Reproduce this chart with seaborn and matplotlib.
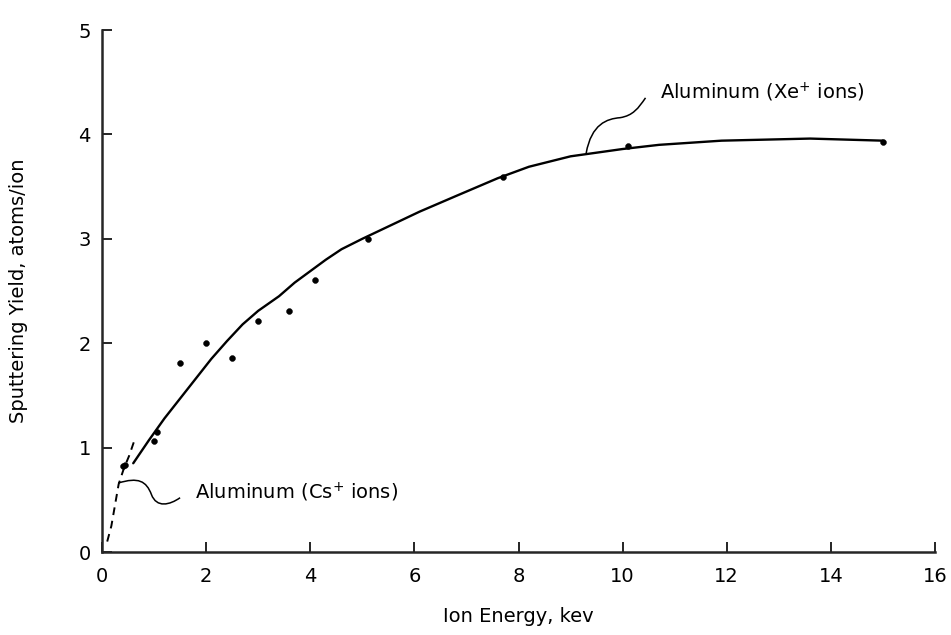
import matplotlib
matplotlib.use("Agg")
import matplotlib.pyplot as plt
import seaborn as sns
import pandas as pd
from matplotlib.path import Path
from matplotlib.patches import PathPatch

# measured points (Xe+ ions on aluminum)
pt_energy = [0.4, 0.45, 1.0, 1.05, 1.5, 2.0, 2.5, 3.0, 3.6, 4.1, 5.1, 7.7, 10.1, 15.0]
pt_yield = [0.82, 0.83, 1.06, 1.15, 1.81, 2.0, 1.86, 2.21, 2.31, 2.61, 3.0, 3.59, 3.89, 3.93]

# faired curve, Xe+ ions
xe_energy = [0.6, 0.9, 1.2, 1.5, 1.8, 2.1, 2.4, 2.7, 3.0, 3.4, 3.7, 4.0, 4.3, 4.6, 5.0,
             6.1, 6.8, 7.6, 8.2, 9.0, 10.0, 10.7, 11.9, 13.6, 15.0]
xe_yield = [0.85, 1.07, 1.28, 1.47, 1.66, 1.85, 2.02, 2.18, 2.31, 2.45, 2.58, 2.69, 2.8,
            2.9, 3.0, 3.26, 3.41, 3.58, 3.69, 3.79, 3.86, 3.9, 3.94, 3.96, 3.94]

# dashed curve, Cs+ ions
cs_energy = [0.1, 0.18, 0.25, 0.32, 0.42, 0.52, 0.63]
cs_yield = [0.1, 0.25, 0.45, 0.65, 0.8, 0.92, 1.08]

x_ticks = list(range(0, 17, 2))
y_ticks = [0, 1, 2, 3, 4, 5]

sns.set_style("ticks")
plt.rcParams['font.family'] = ['DejaVu Sans']
plt.rcParams['mathtext.default'] = 'regular'
for k in ('text.color', 'axes.labelcolor', 'xtick.color', 'ytick.color'):
    plt.rcParams[k] = 'black'

fig = plt.figure(figsize=(9.51, 6.35), dpi=100)
ax = fig.add_axes([102 / 951, 1 - 552 / 635, 833 / 951, 522 / 635])

pts = pd.DataFrame({"energy": pt_energy, "yield": pt_yield})
xe = pd.DataFrame({"energy": xe_energy, "yield": xe_yield})
cs = pd.DataFrame({"energy": cs_energy, "yield": cs_yield})

sns.lineplot(data=xe, x="energy", y="yield", ax=ax, color="black", lw=1.7)
sns.lineplot(data=cs, x="energy", y="yield", ax=ax, color="black", lw=1.4,
             linestyle=(0, (4, 3)))
sns.scatterplot(data=pts, x="energy", y="yield", ax=ax, color="black", s=18,
                edgecolor="black", zorder=3)

# leader squiggles
cs_leader = Path([(0.31, 0.66), (0.7, 0.72), (0.85, 0.68), (0.95, 0.55),
                  (1.05, 0.42), (1.3, 0.45), (1.5, 0.52)],
                 [Path.MOVETO, Path.CURVE4, Path.CURVE4, Path.CURVE4,
                  Path.CURVE4, Path.CURVE4, Path.CURVE4])
xe_leader = Path([(9.3, 3.82), (9.4, 4.1), (9.7, 4.15), (9.95, 4.16),
                  (10.2, 4.18), (10.3, 4.25), (10.44, 4.35)],
                 [Path.MOVETO, Path.CURVE4, Path.CURVE4, Path.CURVE4,
                  Path.CURVE4, Path.CURVE4, Path.CURVE4])
for p in (cs_leader, xe_leader):
    ax.add_patch(PathPatch(p, facecolor="none", edgecolor="black", lw=1.1))

ax.text(1.79, 0.57, "Aluminum (Cs$^{+}$ ions)", fontsize=14, va="center", ha="left")
ax.text(10.72, 4.4, "Aluminum (Xe$^{+}$ ions)", fontsize=14, va="center", ha="left")

ax.set_xlim(0, 16)
ax.set_ylim(0, 5)
ax.set_xticks(x_ticks)
ax.set_yticks(y_ticks)
ax.tick_params(direction="in", length=7, width=1.2, labelsize=14)
ax.tick_params(axis="x", pad=11)
ax.tick_params(axis="y", pad=8)
for s in ("left", "bottom"):
    ax.spines[s].set_linewidth(1.8)
sns.despine(ax=ax)

ax.set_xlabel("Ion Energy, kev", fontsize=14, labelpad=15)
ax.set_ylabel("Sputtering Yield, atoms/ion", fontsize=14, labelpad=36)

fig.savefig("out.png", dpi=100)
